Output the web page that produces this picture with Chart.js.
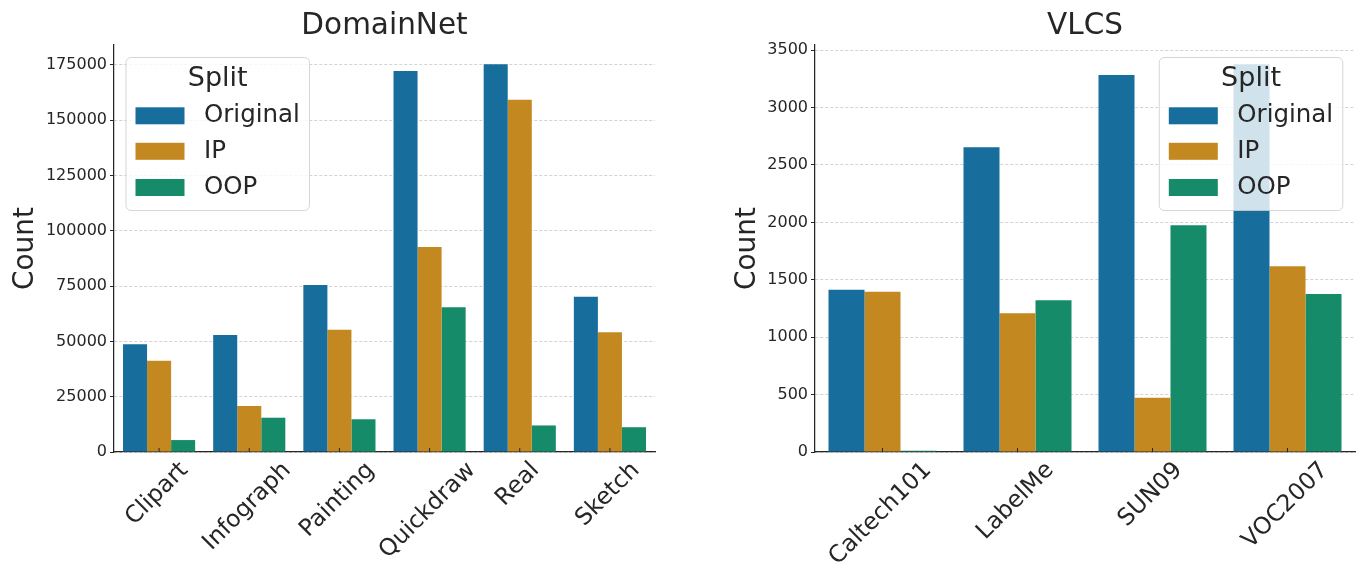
<!DOCTYPE html>
<html>
<head>
<meta charset="utf-8">
<script src="https://cdn.jsdelivr.net/npm/chart.js@4.4.1/dist/chart.umd.min.js"></script>
<style>
  html, body { margin: 0; padding: 0; background: #ffffff; }
  #lienzo { position: relative; width: 1370px; height: 587px; }
  .panel { position: absolute; top: 0; width: 685px; height: 587px; }
</style>
</head>
<body>
<div id="lienzo">
  <div class="panel" style="left:0"><canvas id="chartDomain" width="685" height="587"></canvas></div>
  <div class="panel" style="left:685px"><canvas id="chartVlcs" width="685" height="587"></canvas></div>
</div>
<script>
// --- DATOS ---
const seriesNames = ['Original', 'IP', 'OOP'];

const domainCategories = ['Clipart', 'Infograph', 'Painting', 'Quickdraw', 'Real', 'Sketch'];
const domainOriginal = [48700, 52900, 75500, 172200, 175300, 70200];
const domainIP = [41300, 20800, 55300, 92700, 159300, 54100];
const domainOOP = [5400, 15500, 14800, 65400, 12000, 11200];
const domainTicks = [0, 25000, 50000, 75000, 100000, 125000, 150000, 175000];

const vlcsCategories = ['Caltech101', 'LabelMe', 'SUN09', 'VOC2007'];
const vlcsOriginal = [1414, 2654, 3284, 3377];
const vlcsIP = [1396, 1208, 473, 1617];
const vlcsOOP = [10, 1321, 1975, 1376];
const vlcsTicks = [0, 500, 1000, 1500, 2000, 2500, 3000, 3500];

// --- ESTILO ---
const colores = ['#176d9c', '#c38820', '#168b6a'];
const INK = '#262626';
const FONT = '"DejaVu Sans"';
Chart.defaults.font.family = FONT;
Chart.defaults.color = INK;

function rectRedondo(ctx, x, y, w, h, r) {
    ctx.beginPath();
    ctx.moveTo(x + r, y);
    ctx.lineTo(x + w - r, y);
    ctx.arcTo(x + w, y, x + w, y + r, r);
    ctx.lineTo(x + w, y + h - r);
    ctx.arcTo(x + w, y + h, x + w - r, y + h, r);
    ctx.lineTo(x + r, y + h);
    ctx.arcTo(x, y + h, x, y + h - r, r);
    ctx.lineTo(x, y + r);
    ctx.arcTo(x, y, x + r, y, r);
    ctx.closePath();
}

// titulo, etiquetas giradas y leyenda "Split" dibujadas encima
function pluginExtras(titulo, leyendaX) {
    return {
        id: 'extras',
        afterDraw(chart) {
            const ctx = chart.ctx;
            const area = chart.chartArea;
            const xs = chart.scales.x;
            ctx.save();

            // titulo
            ctx.fillStyle = INK;
            ctx.font = `29.5px ${FONT}`;
            ctx.textAlign = 'center';
            ctx.textBaseline = 'middle';
            ctx.fillText(titulo, (area.left + area.right) / 2, 26.5);

            // ticks y etiquetas del eje x (rotacion 45, centradas)
            ctx.strokeStyle = INK;
            ctx.lineWidth = 1;
            ctx.font = `23.5px ${FONT}`;
            chart.data.labels.forEach((lab, i) => {
                const x = xs.getPixelForValue(i);
                ctx.beginPath();
                ctx.moveTo(x, area.bottom);
                ctx.lineTo(x, area.bottom - 4);
                ctx.stroke();
                const w = ctx.measureText(lab).width;
                const lado = (w + 23.5 * 1.15) * Math.SQRT1_2;
                ctx.save();
                ctx.translate(x - 2, area.bottom + 5 + lado / 2);
                ctx.rotate(-Math.PI / 4);
                ctx.fillText(lab, 0, 0);
                ctx.restore();
            });

            // leyenda
            const bx = leyendaX, by = 57.5, bw = 183.5, bh = 153;
            rectRedondo(ctx, bx, by, bw, bh, 5);
            ctx.fillStyle = 'rgba(255,255,255,0.8)';
            ctx.fill();
            ctx.strokeStyle = 'rgba(204,204,204,0.8)';
            ctx.lineWidth = 1;
            ctx.stroke();

            ctx.fillStyle = INK;
            ctx.font = `27px ${FONT}`;
            ctx.textAlign = 'center';
            ctx.fillText('Split', bx + bw / 2, 79);

            const filas = [115.8, 151.3, 187.5];
            ctx.textAlign = 'left';
            ctx.font = `24.5px ${FONT}`;
            chart.data.datasets.forEach((ds, i) => {
                ctx.fillStyle = ds.backgroundColor;
                ctx.fillRect(bx + 9.5, filas[i] - 8.5, 49, 17);
                ctx.fillStyle = INK;
                ctx.fillText(ds.label, bx + 78, filas[i]);
            });

            ctx.restore();
        }
    };
}

function crearGrafico(id, opciones) {
    const ctx = document.getElementById(id).getContext('2d');
    return new Chart(ctx, {
        type: 'bar',
        data: {
            labels: opciones.labels,
            datasets: opciones.series.map((vals, i) => ({
                label: seriesNames[i],
                data: vals,
                backgroundColor: colores[i],
                borderWidth: 0,
                categoryPercentage: 0.8,
                barPercentage: 1.0
            }))
        },
        options: {
            responsive: false,
            animation: false,
            layout: { padding: { left: 0, right: opciones.derecha, top: 45, bottom: 0 } },
            plugins: { legend: { display: false }, tooltip: { enabled: false } },
            scales: {
                x: {
                    offset: true,
                    grid: { display: false },
                    border: { display: true, color: INK, width: 1.25 },
                    ticks: { display: false },
                    afterFit: s => { s.height = 135; }
                },
                y: {
                    min: 0,
                    max: opciones.ymax,
                    ticks: { padding: 3, color: INK, font: { size: 16 }, callback: v => String(v) },
                    afterBuildTicks: s => { s.ticks = opciones.ticks.map(v => ({ value: v })); },
                    grid: { color: '#c8c8c8', lineWidth: 0.8, tickLength: 4, tickColor: INK, tickWidth: 1, tickBorderDash: [] },
                    border: { display: true, color: INK, width: 1.25, dash: [3, 2] },
                    title: { display: true, text: 'Count', color: INK, font: { size: 28 }, padding: { top: opciones.tituloPad, bottom: 0 } },
                    afterFit: s => { s.width = opciones.ancho; }
                }
            }
        },
        plugins: [pluginExtras(opciones.titulo, opciones.leyendaX)]
    });
}

crearGrafico('chartDomain', {
    titulo: 'DomainNet',
    labels: domainCategories,
    series: [domainOriginal, domainIP, domainOOP],
    ticks: domainTicks,
    ymax: 184000,
    ancho: 114, derecha: 30, tituloPad: 8.7, leyendaX: 126
});

crearGrafico('chartVlcs', {
    titulo: 'VLCS',
    labels: vlcsCategories,
    series: [vlcsOriginal, vlcsIP, vlcsOOP],
    ticks: vlcsTicks,
    ymax: 3545,
    ancho: 130, derecha: 15, tituloPad: 46, leyendaX: 474.3
});
</script>
</body>
</html>
